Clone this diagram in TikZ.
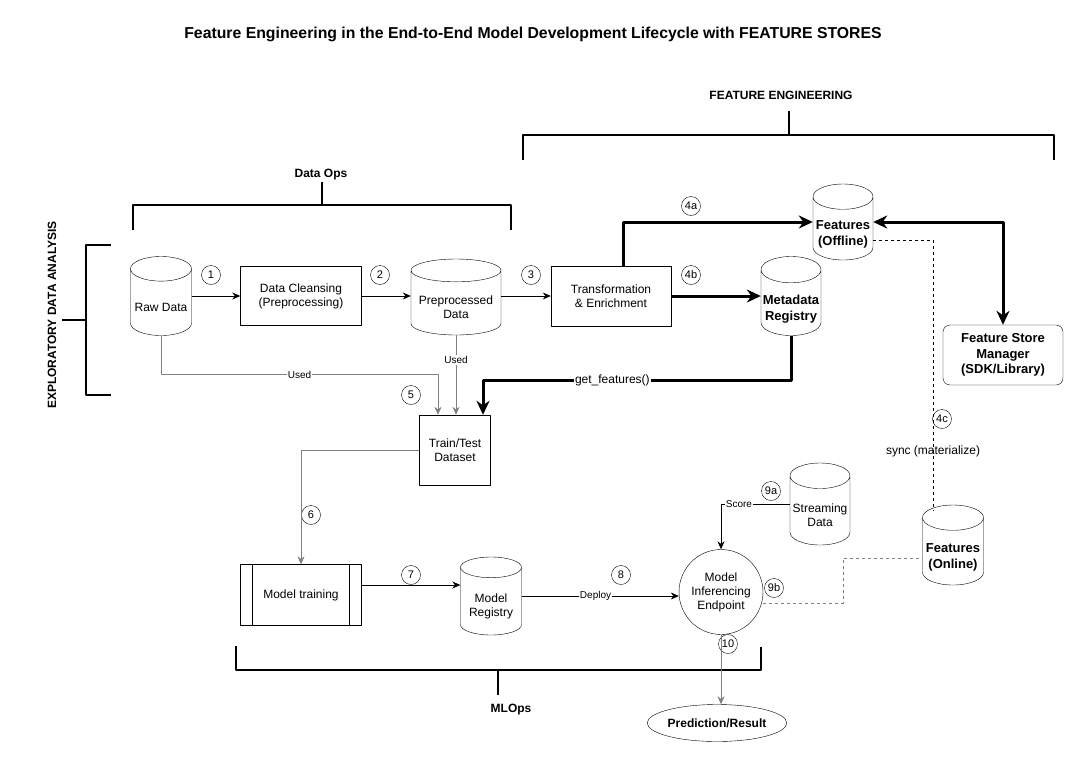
\documentclass[tikz,border=0pt]{standalone}
\usepackage{fontspec}
\setmainfont{Liberation Sans}
\usetikzlibrary{shapes.geometric,arrows.meta}
\newcommand{\dblabel}[1]{\raisebox{-7.5pt}[0pt][0pt]{\begin{tabular}{@{}c@{}}#1\end{tabular}}}

\begin{document}
\begin{tikzpicture}[x=1pt, y=-1pt, line join=round,
  db/.style={draw, cylinder, shape border rotate=90, shape aspect=0.45, anchor=shape center, minimum width=61pt, minimum height=79pt, inner sep=1pt, font=\fontsize{12}{14}\selectfont},
  dbb/.style={db, font=\bfseries\fontsize{13}{16}\selectfont},
  box/.style={draw, rectangle, align=center, inner sep=2pt, font=\fontsize{12}{14}\selectfont},
  proc/.style={box, minimum width=121pt, minimum height=61pt, path picture={\draw ([xshift=12pt]path picture bounding box.north west) -- ([xshift=12pt]path picture bounding box.south west) ([xshift=-12pt]path picture bounding box.north east) -- ([xshift=-12pt]path picture bounding box.south east);}},
  num/.style={draw, circle, inner sep=0.5pt, minimum size=19pt, font=\fontsize{11}{13}\selectfont},
  lbl/.style={fill=white, inner sep=1pt, font=\fontsize{10}{12}\selectfont},
  head/.style={font=\bfseries\fontsize{12}{14}\selectfont},
  brk/.style={line width=2pt},
  flow/.style={-{Stealth[length=8pt,width=7pt]}, line width=0.8pt},
  bigflow/.style={-{Stealth[length=14pt,width=13pt]}, line width=3pt},
  used/.style={flow, draw=gray}]
\useasboundingbox (0,0) rectangle (1084,766);

\node (title) at (533,34) [font=\bfseries\fontsize{15.8}{18}\selectfont] {Feature Engineering in the End-to-End Model Development Lifecycle with FEATURE STORES};
\node (fe) at (781,95) [head] {FEATURE ENGINEERING};
\node (dataops) at (321,175) [head] {Data Ops};
\node (eda) at (52,315) [head, rotate=90] {EXPLORATORY DATA ANALYSIS};
\node (mlops) at (511,710) [head] {MLOps};

% brackets
\draw[brk] (523,160) -- (523,135) -- (1054,135) -- (1054,160) (789,135) -- (789,111);
\draw[brk] (133,230) -- (133,205) -- (511,205) -- (511,230) (322,205) -- (322,182);
\draw[brk] (111,245) -- (86,245) -- (86,395) -- (111,395) (86,320) -- (62,320);
\draw[brk] (236,646) -- (236,670) -- (761,670) -- (761,647) (498,670) -- (498,695);

\node (raw) at (161,296) [db] {\dblabel{Raw Data}};
\node (clean) at (301,296) [box, minimum width=121pt, minimum height=59pt] {Data Cleansing\\(Preprocessing)};
\node (pre) at (456,297) [db, shape aspect=0.3, minimum width=90pt, minimum height=76pt] {\dblabel{Preprocessed\\Data}};
\node (trans) at (611,296) [box, minimum width=120pt, minimum height=60pt] {Transformation\\\& Enrichment};
\node (feoff) at (843,222) [dbb, minimum width=60pt, minimum height=76pt] {\dblabel{Features\\(Offline)}};
\node (meta) at (791,296) [dbb, minimum width=60pt] {\dblabel{Metadata\\Registry}};
\node (fsm) at (1003,355) [box, rounded corners=7pt, minimum width=120pt, minimum height=60pt, font=\bfseries\fontsize{13}{15.5}\selectfont] {Feature Store\\Manager\\(SDK/Library)};
\node (feon) at (953,545) [dbb, minimum width=61pt, minimum height=80pt] {\dblabel{Features\\(Online)}};
\node (tt) at (455,450) [box, minimum width=71pt, minimum height=70pt] {Train/Test\\Dataset};
\node (train) at (301,595) [proc] {Model training};
\node (mreg) at (491,596) [db, minimum height=78pt] {\dblabel{Model\\Registry}};
\node (mie) at (721,592) [draw, ellipse, align=center, minimum width=81pt, minimum height=85pt, inner sep=0pt, font=\fontsize{12}{14}\selectfont] {Model\\Inferencing\\Endpoint};
\node (stream) at (820,504) [db, minimum width=60pt, minimum height=82pt] {\dblabel{Streaming\\Data}};
\node (pred) at (717,723) [draw, ellipse, minimum width=113pt, minimum height=37pt, inner sep=0pt, font=\bfseries\fontsize{12}{14}\selectfont] {Prediction/Result};

\node (n1) at (211,275) [num] {1};
\node (n2) at (380,275) [num] {2};
\node (n3) at (531,275) [num] {3};
\node (n4a) at (691,206) [num] {4a};
\node (n4b) at (691,275) [num] {4b};
\node (n4c) at (942,419) [num] {4c};
\node (n5) at (411,395) [num] {5};
\node (n6) at (311,515) [num] {6};
\node (n7) at (411,575) [num] {7};
\node (n8) at (621,575) [num] {8};
\node (n9a) at (771,491) [num] {9a};
\node (n9b) at (774,588) [num] {9b};
\node (n10) at (728,644) [num] {10};

\draw[flow] (clean -| raw.east) -- (clean);
\draw[flow] (clean) -- (clean -| pre.west);
\draw[flow] (trans -| pre.east) -- (trans);
\draw[bigflow] ([xshift=12pt]trans.north) |- (feoff.shape center -| feoff.west);
\draw[bigflow] (trans) -- (trans -| meta.west);
\draw[bigflow, {Stealth[length=14pt,width=13pt]}-{Stealth[length=14pt,width=13pt]}] (feoff.shape center -| feoff.east) -| (fsm);
\draw[dash pattern=on 3pt off 3pt] ([yshift=-18pt]feoff.shape center -| feoff.east) -| ([xshift=-20pt,yshift=-6pt]feon.north) node[pos=0.89, font=\fontsize{12}{14}\selectfont] {sync (materialize)};
\draw[bigflow] (meta.south) |- ([xshift=28pt,yshift=34pt]tt.north) node[pos=0.79, lbl, font=\fontsize{12}{14}\selectfont] {get\_features()} -- ([xshift=28pt]tt.north);
\draw[used] (raw.south) |- ([xshift=-17pt,yshift=40pt]tt.north) node[pos=0.75, lbl, text=black] {Used} -- ([xshift=-17pt]tt.north);
\draw[used] (pre.south) -- (pre.south |- tt.north) node[pos=0.31, lbl, text=black] {Used};
\draw[used] (tt.west) -| (train.north);
\draw[flow] ([yshift=10pt]train.east) -- ([yshift=10pt]train.east -| mreg.west);
\draw[flow] (mreg.shape center -| mreg.east) -- (mreg.shape center -| mie.west) node[pos=0.47, lbl] {Deploy};
\draw[flow] (stream.shape center -| stream.west) -| (mie.north) node[pos=0.37, lbl] {Score};
\draw[dash pattern=on 3pt off 3pt, gray, line width=0.8pt] ([yshift=-11pt]mie.east) -- ++(80,0) |- ([yshift=-13pt]feon.shape center -| feon.west);
\draw[used] (mie.south) -- (mie.south |- pred.north);
\end{tikzpicture}
\end{document}
